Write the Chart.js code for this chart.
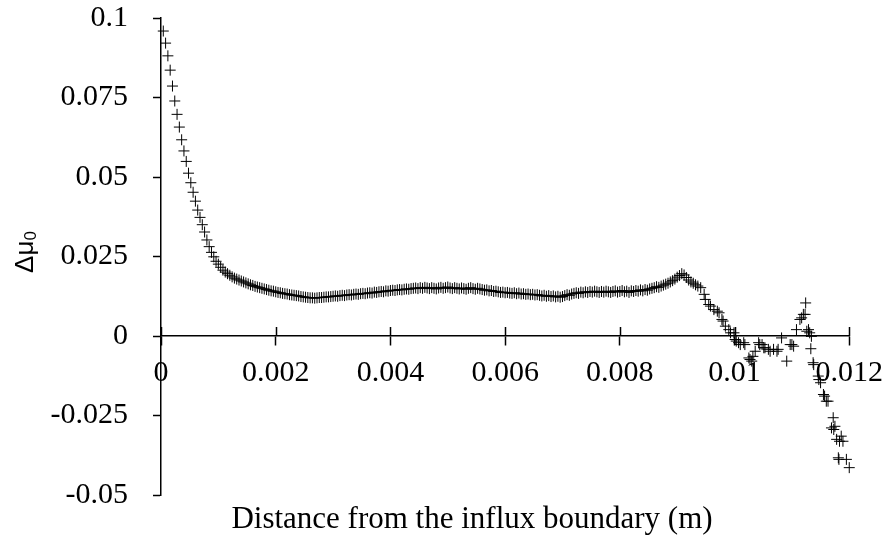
<!DOCTYPE html>
<html>
<head>
<meta charset="utf-8">
<script src="https://cdn.jsdelivr.net/npm/chart.js@4/dist/chart.umd.min.js"></script>
<style>
  body { margin: 0; background: #fff; }
  #chart { display: block; }
</style>
</head>
<body>
<canvas id="chart" width="893" height="539"></canvas>
<script>
// distance from the influx boundary (m), regular sampling up to the peak
const distance = [
    0.00004, 0.00008, 0.00012, 0.00016, 0.0002, 0.00024, 0.00028, 0.00032, 0.00036, 0.0004,
    0.00044, 0.00048, 0.00052, 0.00056, 0.0006, 0.00064, 0.00068, 0.00072, 0.00076, 0.0008,
    0.00084, 0.00088, 0.00092, 0.00096, 0.001, 0.00104, 0.00108, 0.00112, 0.00116, 0.0012,
    0.00124, 0.00128, 0.00132, 0.00136, 0.0014, 0.00144, 0.00148, 0.00152, 0.00156, 0.0016,
    0.00164, 0.00168, 0.00172, 0.00176, 0.0018, 0.00184, 0.00188, 0.00192, 0.00196, 0.002,
    0.00204, 0.00208, 0.00212, 0.00216, 0.0022, 0.00224, 0.00228, 0.00232, 0.00236, 0.0024,
    0.00244, 0.00248, 0.00252, 0.00256, 0.0026, 0.00264, 0.00268, 0.00272, 0.00276, 0.0028,
    0.00284, 0.00288, 0.00292, 0.00296, 0.003, 0.00304, 0.00308, 0.00312, 0.00316, 0.0032,
    0.00324, 0.00328, 0.00332, 0.00336, 0.0034, 0.00344, 0.00348, 0.00352, 0.00356, 0.0036,
    0.00364, 0.00368, 0.00372, 0.00376, 0.0038, 0.00384, 0.00388, 0.00392, 0.00396, 0.004,
    0.00404, 0.00408, 0.00412, 0.00416, 0.0042, 0.00424, 0.00428, 0.00432, 0.00436, 0.0044,
    0.00444, 0.00448, 0.00452, 0.00456, 0.0046, 0.00464, 0.00468, 0.00472, 0.00476, 0.0048,
    0.00484, 0.00488, 0.00492, 0.00496, 0.005, 0.00504, 0.00508, 0.00512, 0.00516, 0.0052,
    0.00524, 0.00528, 0.00532, 0.00536, 0.0054, 0.00544, 0.00548, 0.00552, 0.00556, 0.0056,
    0.00564, 0.00568, 0.00572, 0.00576, 0.0058, 0.00584, 0.00588, 0.00592, 0.00596, 0.006,
    0.00604, 0.00608, 0.00612, 0.00616, 0.0062, 0.00624, 0.00628, 0.00632, 0.00636, 0.0064,
    0.00644, 0.00648, 0.00652, 0.00656, 0.0066, 0.00664, 0.00668, 0.00672, 0.00676, 0.0068,
    0.00684, 0.00688, 0.00692, 0.00696, 0.007, 0.00704, 0.00708, 0.00712, 0.00716, 0.0072,
    0.00724, 0.00728, 0.00732, 0.00736, 0.0074, 0.00744, 0.00748, 0.00752, 0.00756, 0.0076,
    0.00764, 0.00768, 0.00772, 0.00776, 0.0078, 0.00784, 0.00788, 0.00792, 0.00796, 0.008,
    0.00804, 0.00808, 0.00812, 0.00816, 0.0082, 0.00824, 0.00828, 0.00832, 0.00836, 0.0084,
    0.00844, 0.00848, 0.00852, 0.00856, 0.0086, 0.00864, 0.00868, 0.00872, 0.00876, 0.0088,
    0.00884, 0.00888, 0.00892, 0.00896, 0.009, 0.00904, 0.00908, 0.00912, 0.00916, 0.0092,
    0.00924, 0.00928, 0.00932, 0.00936
];

const deltaMu = [
    0.0959, 0.0921, 0.0881, 0.0836, 0.0786, 0.0739, 0.0697, 0.0657, 0.0617, 0.0582,
    0.0549, 0.0512, 0.0482, 0.0452, 0.0424, 0.0396, 0.0373, 0.0350, 0.0327, 0.0302,
    0.0281, 0.0263, 0.0249, 0.0235, 0.0226, 0.0216, 0.0207, 0.0201, 0.0196, 0.0191,
    0.0186, 0.0182, 0.0179, 0.0176, 0.0173, 0.0170, 0.0167, 0.0164, 0.0161, 0.0159,
    0.0156, 0.0154, 0.0152, 0.0150, 0.0148, 0.0146, 0.0144, 0.0142, 0.0141, 0.0139,
    0.0137, 0.0136, 0.0134, 0.0133, 0.0132, 0.0130, 0.0129, 0.0128, 0.0127, 0.0126,
    0.0124, 0.0123, 0.0122, 0.0121, 0.0120, 0.0120, 0.0119, 0.0120, 0.0121, 0.0121,
    0.0122, 0.0123, 0.0123, 0.0124, 0.0125, 0.0126, 0.0125, 0.0127, 0.0128, 0.0127,
    0.0129, 0.0130, 0.0129, 0.0131, 0.0132, 0.0131, 0.0133, 0.0134, 0.0133, 0.0135,
    0.0136, 0.0135, 0.0138, 0.0137, 0.0139, 0.0140, 0.0139, 0.0142, 0.0141, 0.0143,
    0.0144, 0.0143, 0.0145, 0.0146, 0.0145, 0.0147, 0.0148, 0.0147, 0.0149, 0.0150,
    0.0151, 0.0149, 0.0152, 0.0150, 0.0153, 0.0151, 0.0149, 0.0152, 0.0150, 0.0148,
    0.0151, 0.0153, 0.0150, 0.0152, 0.0154, 0.0151, 0.0149, 0.0152, 0.0150, 0.0148,
    0.0151, 0.0149, 0.0147, 0.0150, 0.0152, 0.0149, 0.0147, 0.0150, 0.0148, 0.0146,
    0.0144, 0.0145, 0.0142, 0.0143, 0.0140, 0.0141, 0.0139, 0.0137, 0.0138, 0.0136,
    0.0137, 0.0135, 0.0134, 0.0136, 0.0133, 0.0135, 0.0132, 0.0133, 0.0131, 0.0132,
    0.0130, 0.0131, 0.0129, 0.0130, 0.0128, 0.0126, 0.0128, 0.0125, 0.0127, 0.0124,
    0.0126, 0.0123, 0.0125, 0.0122, 0.0124, 0.0127, 0.0130, 0.0128, 0.0132, 0.0134,
    0.0136, 0.0134, 0.0138, 0.0136, 0.0139, 0.0137, 0.0140, 0.0138, 0.0141, 0.0139,
    0.0137, 0.0140, 0.0138, 0.0141, 0.0139, 0.0137, 0.0140, 0.0142, 0.0138, 0.0140,
    0.0143, 0.0139, 0.0141, 0.0137, 0.0142, 0.0140, 0.0143, 0.0141, 0.0145, 0.0142,
    0.0146, 0.0144, 0.0148, 0.0150, 0.0152, 0.0155, 0.0153, 0.0157, 0.0160, 0.0163,
    0.0166, 0.0170, 0.0174, 0.0179, 0.0185, 0.0190, 0.0196, 0.0192, 0.0184, 0.0176,
    0.0170, 0.0166, 0.0161, 0.0157
];

// scattered samples past the peak, near the outflow end
const tailDistance = [
    0.00941, 0.00947, 0.00949, 0.00955, 0.00958, 0.00964, 0.0097, 0.00973,
    0.00978, 0.0098, 0.00984, 0.0099, 0.00993, 0.00999, 0.01001, 0.01003,
    0.01007, 0.0101, 0.01016, 0.01018, 0.01025, 0.01027, 0.0103, 0.01032,
    0.01036, 0.01042, 0.01044, 0.01048, 0.01051, 0.01053, 0.01059, 0.01062,
    0.01068, 0.01074, 0.01076, 0.01082, 0.01091, 0.01097, 0.011, 0.01103,
    0.01108, 0.01114, 0.01117, 0.0112, 0.01123, 0.01124, 0.01126, 0.01129,
    0.01131, 0.01133, 0.01134, 0.01137, 0.01138, 0.01146, 0.01147, 0.0115,
    0.01155, 0.01157, 0.0116, 0.01163, 0.01169, 0.01172, 0.01173, 0.01175,
    0.01178, 0.01181, 0.01182, 0.01183, 0.01186, 0.01189, 0.01195, 0.012
];

const tailDeltaMu = [
    0.0152, 0.0131, 0.0115, 0.0099, 0.0094, 0.0083, 0.0078, 0.0073,
    0.0052, 0.0047, 0.0031, 0.002, 0.001, 0.001, -0.0011, -0.0016,
    -0.0021, -0.0027, -0.0021, -0.0027, -0.0069, -0.0074, -0.0079, -0.0064,
    -0.0048, -0.0021, -0.0027, -0.0027, -0.0037, -0.0037, -0.0042, -0.0048,
    -0.0042, -0.0048, -0.0042, -0.0006, -0.0079, -0.0027, -0.0027, -0.0032,
    0.002, 0.0052, 0.0057, 0.0068, 0.0068, 0.0104, 0.0015, 0.002,
    0.001, -0.004, -0.0001, -0.0084, -0.009, -0.0126, -0.0137, -0.0147,
    -0.0184, -0.0189, -0.0205, -0.0205, -0.0289, -0.0257, -0.0294, -0.0284,
    -0.0325, -0.0383, -0.0388, -0.0331, -0.0315, -0.0331, -0.0388, -0.0414
];

const xTicks = [0, 0.002, 0.004, 0.006, 0.008, 0.01, 0.012];
const yTicks = [-0.05, -0.025, 0, 0.025, 0.05, 0.075, 0.1];

const xTitle = "Distance from the influx boundary (m)";
const yTitle = "Δμ";
const yTitleSub = "0";

const points = distance.concat(tailDistance).map((x, i) => ({
    x: x,
    y: deltaMu.concat(tailDeltaMu)[i]
}));

const serif = '"Liberation Serif", "Times New Roman", serif';

// upper half of the x tick marks (chart.js only draws them below the line)
const crossTicks = {
    id: "crossTicks",
    afterDraw(chart) {
        const xs = chart.scales.x;
        const y0 = chart.scales.y.getPixelForValue(0);
        const ctx = chart.ctx;
        ctx.save();
        ctx.strokeStyle = "#000";
        ctx.lineWidth = 1.5;
        ctx.beginPath();
        xs.ticks.forEach(t => {
            const px = Math.round(xs.getPixelForValue(t.value)) + 0.5;
            ctx.moveTo(px, y0 - 9);
            ctx.lineTo(px, y0);
        });
        ctx.stroke();
        ctx.restore();
    }
};

// axis titles: x title under the plot, y title rotated with a subscript
const axisTitles = {
    id: "axisTitles",
    afterDraw(chart) {
        const ctx = chart.ctx;
        ctx.save();
        ctx.fillStyle = "#000";
        ctx.font = "31px " + serif;
        ctx.textAlign = "center";
        ctx.textBaseline = "middle";
        ctx.fillText(xTitle, 472, 520);

        ctx.translate(33, 252);
        ctx.rotate(-Math.PI / 2);
        ctx.textAlign = "left";
        ctx.textBaseline = "alphabetic";
        ctx.font = '26px "Liberation Sans", Arial, sans-serif';
        const w1 = ctx.measureText(yTitle).width;
        ctx.font = '17px "Liberation Sans", Arial, sans-serif';
        const w2 = ctx.measureText(yTitleSub).width;
        const start = -(w1 + w2) / 2;
        ctx.font = '26px "Liberation Sans", Arial, sans-serif';
        ctx.fillText(yTitle, start, 0);
        ctx.font = '17px "Liberation Sans", Arial, sans-serif';
        ctx.fillText(yTitleSub, start + w1, 3);
        ctx.restore();
    }
};

new Chart(document.getElementById("chart"), {
    type: "scatter",
    data: {
        datasets: [{
            data: points,
            pointStyle: "cross",
            pointRadius: 5.5,
            pointBorderWidth: 1,
            pointBorderColor: "#000",
            pointBackgroundColor: "#000",
            clip: false
        }]
    },
    options: {
        responsive: false,
        animation: false,
        devicePixelRatio: 1,
        layout: { padding: { top: 18, right: 40, bottom: 44, left: 0 } },
        plugins: {
            legend: { display: false },
            tooltip: { enabled: false }
        },
        scales: {
            x: {
                type: "linear",
                position: { y: 0 },
                min: 0,
                max: 0.012,
                afterBuildTicks: scale => { scale.ticks = xTicks.map(v => ({ value: v })); },
                ticks: {
                    callback: v => String(v),
                    font: { family: serif, size: 30 },
                    color: "#000",
                    padding: 10,
                    maxRotation: 0,
                    autoSkip: false
                },
                grid: {
                    drawOnChartArea: false,
                    drawTicks: true,
                    tickLength: 9,
                    tickColor: "#000",
                    tickWidth: 1.5
                },
                border: { display: true, color: "#000", width: 1.5 }
            },
            y: {
                type: "linear",
                position: "left",
                min: -0.05,
                max: 0.1,
                afterBuildTicks: scale => { scale.ticks = yTicks.map(v => ({ value: v })); },
                afterFit: scale => {
                    scale.width = 161;
                    // keep the label padding from pushing the plot area inward
                    scale.paddingTop = 0;
                    scale.paddingBottom = 0;
                },
                ticks: {
                    callback: v => String(v),
                    font: { family: serif, size: 30 },
                    color: "#000",
                    padding: 25,
                    autoSkip: false
                },
                grid: {
                    drawOnChartArea: false,
                    drawTicks: true,
                    tickLength: 8,
                    tickColor: "#000",
                    tickWidth: 1.5
                },
                border: { display: true, color: "#000", width: 1.5 }
            }
        }
    },
    plugins: [crossTicks, axisTitles]
});
</script>
</body>
</html>
